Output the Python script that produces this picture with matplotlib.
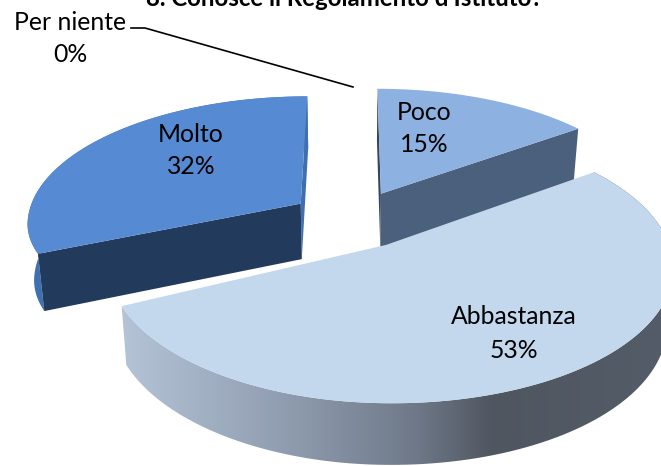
import numpy as np
import matplotlib.pyplot as plt
from matplotlib.patches import Polygon
from matplotlib.colors import LinearSegmentedColormap

plt.rcParams["font.family"] = ["Lato", "DejaVu Sans"]

# ======================
# DATA
# ======================
categories = ["Per niente", "Poco", "Abbastanza", "Molto"]
values = [0, 15, 53, 32]
title = "8. Conosce il Regolamento d'Istituto?"

top_colors = ["#4f81bd", "#8db1e0", "#c3d7ed", "#568bd4"]

# ======================
# PROJECTION (fake 3D like the spreadsheet pie)
# ======================
X0, Y0 = 353, 219
A, B = 275, 127
K = 0.1455
EXPLODE = 0.23
DEPTH = 56

# small per-slice fit: width left of centre, height in front of centre
fit = {"Poco": (275, 127), "Abbastanza": (267, 127), "Molto": (274, 110)}


def project(u, v, name, low=False):
    a_left, b_front = fit[name]
    s = 1 / (1 + K * v)
    x = X0 + np.where(u < 0, a_left, A) * u * s
    y = Y0 - np.where(v < 0, b_front, B) * v * s
    if low:
        x = X0 + (x - X0) * 0.98
        y = y + DEPTH * s**0.5
    return x, y


def wedge_uv(start, end):
    mid = np.radians((start + end) / 2)
    ox, oy = EXPLODE * np.sin(mid), EXPLODE * np.cos(mid)
    t = np.radians(np.linspace(start, end, 120))
    return ox, oy, ox + np.sin(t), oy + np.cos(t)


def face(u, v, name):
    x, y = project(u, v, name)
    xl, yl = project(u, v, name, low=True)
    return np.column_stack([np.r_[x, xl[::-1]], np.r_[y, yl[::-1]]])


# ======================
# PLOTTING
# ======================
fig = plt.figure(figsize=(6.61, 4.66), dpi=100)
ax = fig.add_axes([0, 0, 1, 1])
ax.axis("off")

edges = np.cumsum([0] + values) * 3.6
rim_cmap = LinearSegmentedColormap.from_list(
    "rim",
    [(0, "#b4c3d6"), (0.18, "#9fadc1"), (0.35, "#8a97a9"), (0.55, "#6e7888"),
     (0.69, "#4f5660"), (0.9, "#525a65"), (1, "#535c68")],
)

for i, name in enumerate(categories):
    if values[i] == 0:
        continue
    start, end = edges[i], edges[i + 1]
    ox, oy, u, v = wedge_uv(start, end)

    cut_start = face(np.array([ox, u[0]]), np.array([oy, v[0]]), name)
    cut_end = face(np.array([ox, u[-1]]), np.array([oy, v[-1]]), name)

    if name == "Poco":
        ax.add_patch(Polygon(cut_start, closed=True, fc="#34465f", ec="none", zorder=2))
        ax.add_patch(Polygon(cut_end, closed=True, fc="#4b607d", ec="none", zorder=2))
    elif name == "Molto":
        ax.add_patch(Polygon(face(u, v, name), closed=True, fc="#3f70b0", ec="none", zorder=2))
        ax.add_patch(Polygon(cut_end, closed=True, fc="#3f6fae", ec="none", zorder=2))
        ax.add_patch(Polygon(cut_start, closed=True, fc="#223a5c", ec="none", zorder=3))
    else:
        poly = Polygon(face(u, v, name), closed=True, fc="none", ec="none", zorder=4)
        ax.add_patch(poly)
        grad = np.linspace(0, 1, 400).reshape(1, -1)
        im = ax.imshow(grad, extent=(120, 661, 466, 150), cmap=rim_cmap, aspect="auto", zorder=4)
        im.set_clip_path(poly)

    x, y = project(np.r_[ox, u], np.r_[oy, v], name)
    ax.add_patch(Polygon(np.column_stack([x, y]), closed=True, fc=top_colors[i], ec="none", zorder=5))

ax.set_xlim(0, 661)
ax.set_ylim(466, 0)

# labels
fs = 17.8
pct = [f"{v}%" for v in values]
ax.text(344, -2, title, fontsize=17.3, fontweight="bold", ha="center", va="center", color="black", zorder=10)
ax.text(70, 23, categories[0], fontsize=fs, ha="center", va="center", zorder=10)
ax.text(70, 54, pct[0], fontsize=fs, ha="center", va="center", zorder=10)
ax.text(424, 113, categories[1], fontsize=fs, ha="center", va="center", zorder=10)
ax.text(424, 145, pct[1], fontsize=fs, ha="center", va="center", zorder=10)
ax.text(514, 317, categories[2], fontsize=fs, ha="center", va="center", zorder=10)
ax.text(514, 350, pct[2], fontsize=fs, ha="center", va="center", zorder=10)
ax.text(191, 135, categories[3], fontsize=fs, ha="center", va="center", zorder=10)
ax.text(191, 167, pct[3], fontsize=fs, ha="center", va="center", zorder=10)

# leader line for the empty slice
ax.plot([131, 145, 353], [28, 28, 87], color="black", lw=1.2, zorder=10)

plt.savefig("out.png", dpi=100)
